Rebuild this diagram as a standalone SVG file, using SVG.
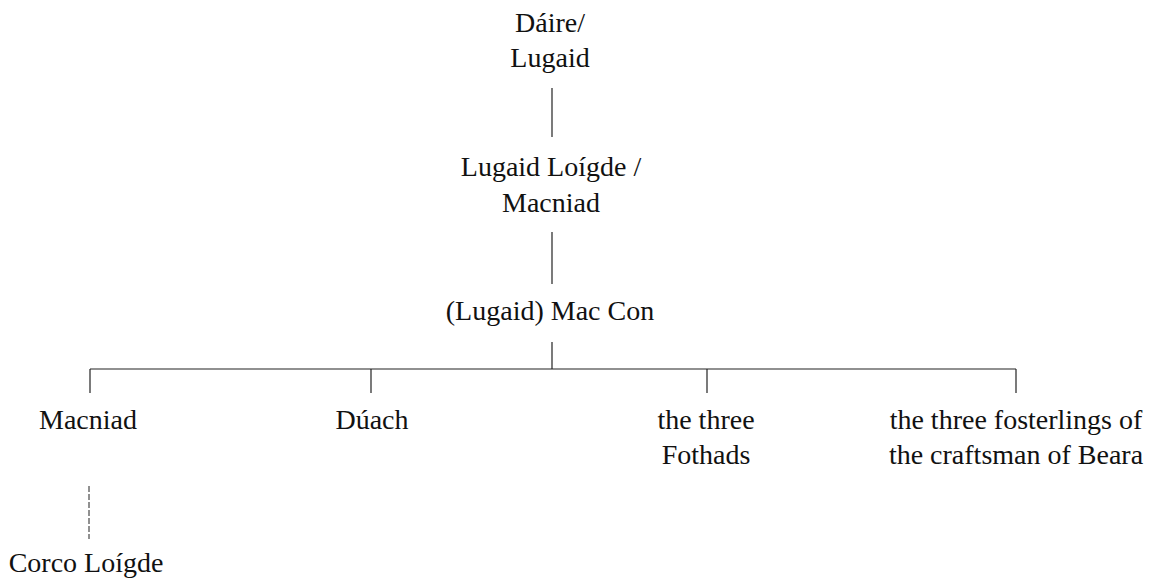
<svg xmlns="http://www.w3.org/2000/svg" width="1149" height="582" viewBox="0 0 1149 582">
  <style>
    .ln { stroke: #222; stroke-width: 1.2; fill: none; }
    .dash { stroke: #222; stroke-width: 1; fill: none; stroke-dasharray: 6 2; }
  </style>
  <rect width="1149" height="582" fill="#fff"/>

  <g id="connectors">
    <line class="ln" x1="552" y1="88" x2="552" y2="137"/>
    <line class="ln" x1="552" y1="232" x2="552" y2="284"/>
    <line class="ln" x1="552" y1="342" x2="552" y2="369"/>
    <line class="ln" x1="90" y1="369" x2="1016" y2="369"/>
    <line class="ln" x1="90" y1="369" x2="90" y2="393"/>
    <line class="ln" x1="371" y1="369" x2="371" y2="393"/>
    <line class="ln" x1="707" y1="369" x2="707" y2="393"/>
    <line class="ln" x1="1016" y1="369" x2="1016" y2="393"/>
    <line class="dash" x1="89" y1="486" x2="89" y2="539"/>
  </g>

  <g font-family="Liberation Serif, DejaVu Serif, serif" font-size="28" fill="#111" text-anchor="middle">
    <g id="daire-lugaid">
      <text x="550" y="32">Dáire/</text>
      <text x="550" y="67">Lugaid</text>
    </g>
    <g id="lugaid-loigde">
      <text x="551" y="176">Lugaid Loígde /</text>
      <text x="551" y="212">Macniad</text>
    </g>
    <g id="mac-con">
      <text x="550" y="320">(Lugaid) Mac Con</text>
    </g>
    <g id="macniad">
      <text x="88" y="429">Macniad</text>
    </g>
    <g id="duach">
      <text x="372" y="429">Dúach</text>
    </g>
    <g id="fothads">
      <text x="706" y="429">the three</text>
      <text x="706" y="464">Fothads</text>
    </g>
    <g id="fosterlings">
      <text x="1016" y="429">the three fosterlings of</text>
      <text x="1016" y="464">the craftsman of Beara</text>
    </g>
    <g id="corco-loigde">
      <text x="86" y="572">Corco Loígde</text>
    </g>
  </g>
</svg>
